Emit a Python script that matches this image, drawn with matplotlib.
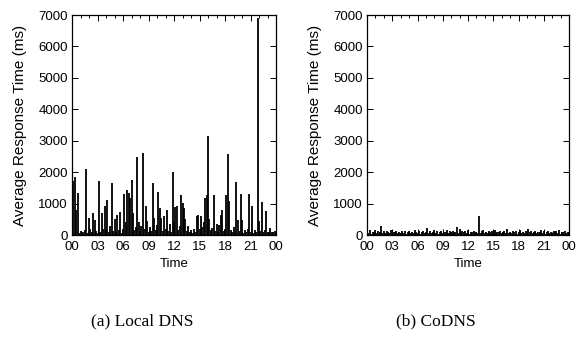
import numpy as np
import matplotlib.pyplot as plt
from matplotlib.ticker import MultipleLocator

# average response time (ms), one sample every 10 minutes, 00:00 .. 24:00
local_dns = [
    150, 1730, 1830, 800, 1350, 60, 120, 40, 90, 150,
    2100, 70, 540, 180, 90, 700, 480, 130, 60, 1720,
    110, 700, 200, 920, 150, 1100, 90, 300, 1660, 120,
    520, 80, 650, 150, 720, 60, 180, 1300, 400, 1420,
    1350, 1190, 1760, 700, 150, 260, 2480, 400, 130, 300,
    2620, 180, 920, 430, 90, 250, 140, 1670, 550, 160,
    330, 1380, 860, 540, 120, 600, 200, 800, 140, 350,
    90, 2000, 400, 880, 920, 160, 300, 1270, 1020, 860,
    500, 120, 300, 80, 150, 60, 200, 110, 590, 650,
    180, 620, 250, 400, 1190, 1260, 3150, 500, 150, 230,
    1270, 140, 350, 90, 320, 650, 810, 120, 200, 1270,
    2590, 1080, 160, 90, 250, 70, 1690, 480, 120, 1320,
    480, 60, 150, 90, 200, 1320, 110, 920, 70, 150,
    90, 6900, 430, 120, 1060, 80, 150, 760, 90, 60,
    220, 100, 80, 140, 60,
]

codns = [
    120, 60, 150, 40, 110, 90, 160, 50, 130, 80,
    300, 70, 140, 50, 120, 90, 60, 150, 40, 110,
    80, 130, 60, 100, 50, 140, 70, 120, 40, 90,
    130, 60, 110, 50, 150, 80, 60, 120, 40, 100,
    140, 70, 110, 220, 60, 130, 50, 100, 150, 70,
    120, 40, 90, 140, 60, 110, 80, 150, 50, 120,
    90, 130, 60, 110, 240, 70, 200, 50, 140, 90,
    120, 60, 150, 40, 110, 80, 130, 60, 100, 50,
    600, 70, 120, 160, 60, 110, 50, 140, 80, 120,
    40, 150, 60, 110, 90, 130, 50, 100, 140, 70,
    200, 60, 110, 50, 130, 80, 120, 40, 90, 150,
    60, 110, 70, 140, 50, 190, 80, 120, 60, 100,
    140, 50, 110, 80, 150, 60, 120, 40, 100, 130,
    70, 110, 50, 140, 80, 120, 60, 150, 40, 110,
    90, 130, 60, 100, 80,
]

hour_labels = ['00', '03', '06', '09', '12', '15', '18', '21', '00']
captions = ['(a) Local DNS', '(b) CoDNS']

plt.rcParams['font.family'] = ['Liberation Sans', 'DejaVu Sans']

fig = plt.figure(figsize=(5.78, 3.47), dpi=100)
W, H = 578.0, 347.0
boxes = [(72, 204), (367, 202)]
top, bottom = 15, 235

for (left, width), series, cap in zip(boxes, [local_dns, codns], captions):
    ax = fig.add_axes([left / W, 1 - bottom / H, width / W, (bottom - top) / H])
    t = np.arange(len(series)) / 6.0
    ax.vlines(t, 0, series, color='black', linewidth=1.3)
    ax.set_xlim(0, 24)
    ax.set_ylim(0, 7000)
    ax.xaxis.set_minor_locator(MultipleLocator(1))
    ax.yaxis.set_major_locator(MultipleLocator(1000))
    ax.set_xticks(np.arange(0, 25, 3))
    ax.set_xticklabels(hour_labels)
    ax.tick_params(which='both', direction='in', top=True, right=True,
                   labelsize=9.5, width=0.7)
    ax.tick_params(axis='x', pad=4)
    ax.tick_params(axis='y', pad=3)
    ax.tick_params(which='major', length=4)
    ax.tick_params(which='minor', length=2)
    for s in ax.spines.values():
        s.set_linewidth(0.9)
    ax.set_ylabel('Average Response Time (ms)', fontsize=11)
    ax.yaxis.set_label_coords(-52.0 / width, 0.5)
    ax.set_xlabel('Time', fontsize=9.5)
    ax.xaxis.set_label_coords(0.5, -29.0 / (bottom - top))
    ax.xaxis.label.set_va('center')
    ax.yaxis.label.set_va('center')
    fig.text((left + width / 2 - 32) / W, 1 - 321 / H, cap, ha='center', va='center',
             fontsize=12.5, family='Liberation Serif')

fig.savefig('out.png', dpi=100)
